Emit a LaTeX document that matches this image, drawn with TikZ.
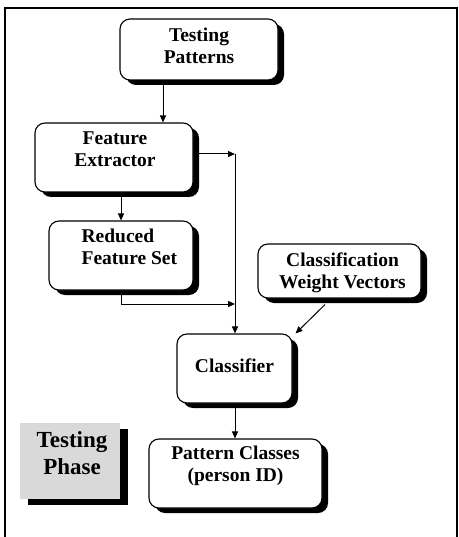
\documentclass[tikz,border=0pt]{standalone}
\usepackage{fontspec}
\setmainfont{Liberation Serif}
\usetikzlibrary{arrows.meta,shadows,calc}
\begin{document}
\begin{tikzpicture}[x=1pt,y=-1pt,
  box/.style={draw,line width=1.1pt,fill=white,rounded corners=10pt,inner sep=0pt,
    drop shadow={fill=black,opacity=1,shadow xshift=6pt,shadow yshift=-5pt}},
  phasebox/.style={fill=black!15,inner sep=0pt,
    drop shadow={fill=black,opacity=1,shadow xshift=8pt,shadow yshift=-6pt}},
  lbl/.style={font=\bfseries\fontsize{19.5}{21.5}\selectfont,align=center,inner sep=0pt},
  biglbl/.style={font=\bfseries\fontsize{23}{27}\selectfont,align=center,inner sep=0pt},
  arr/.style={line width=1pt,-{Triangle[length=7pt,width=6pt]}}]
\useasboundingbox (0,0) rectangle (458,537);
\draw[line width=1.5pt] (5,8) rectangle (457,570);

\node[box,minimum width=158pt,minimum height=61pt] (tp) at (199,49.5) {};
\node[lbl] (tpt) at ($(tp.center)+(0,-3.5)$) {Testing\\Patterns};

\node[box,minimum width=158pt,minimum height=69pt] (fe) at (114,157.5) {};
\node[lbl] (fet) at ($(fe.center)+(1,-8.5)$) {Feature\\Extractor};

\node[box,minimum width=144pt,minimum height=69pt] (rfs) at (121,255.5) {};
\node[lbl,align=left,anchor=west] (rfst) at ($(rfs.west)+(33,-8.5)$) {Reduced\\Feature Set};

\node[box,minimum width=163pt,minimum height=54pt] (cwv) at (339.5,271) {};
\node[lbl] (cwvt) at ($(cwv.center)+(3,2)$) {Classification\\Weight Vectors};

\node[box,minimum width=115pt,minimum height=69pt] (cls) at (234.5,368.5) {};
\node[lbl] (clst) at ($(cls.center)+(0,-2.5)$) {Classifier};

\node[box,minimum width=173pt,minimum height=69pt] (pc) at (235.5,473.5) {};
\node[lbl] (pct) at ($(pc.center)+(0,-7.5)$) {Pattern Classes\\(person ID)};

\node[phasebox,minimum width=100pt,minimum height=76pt] (tph) at (70,461) {};
\node[biglbl] (tpht) at ($(tph.center)+(2,-7.5)$) {Testing\\Phase};

\coordinate (c1) at (163,0);
\coordinate (j1) at (235,154);
\coordinate (j2) at (235,304);

\draw[arr] (tp.south -| c1) -- (fe.north -| c1);
\draw[arr] (fe.south -| rfs.north) -- (rfs.north);
\draw[arr] (fe.east |- j1) -- (j1);
\draw[arr] (j1) -- (cls.north -| j1);
\draw[arr] (rfs.south) -- (rfs.south |- j2) -- (j2);
\draw[arr] ($(cwv.south)+(-14.5,6)$) -- ($(cls.north east)+(3,0)$);
\draw[arr] (cls.south -| j1) -- (pc.north -| j1);
\end{tikzpicture}
\end{document}
